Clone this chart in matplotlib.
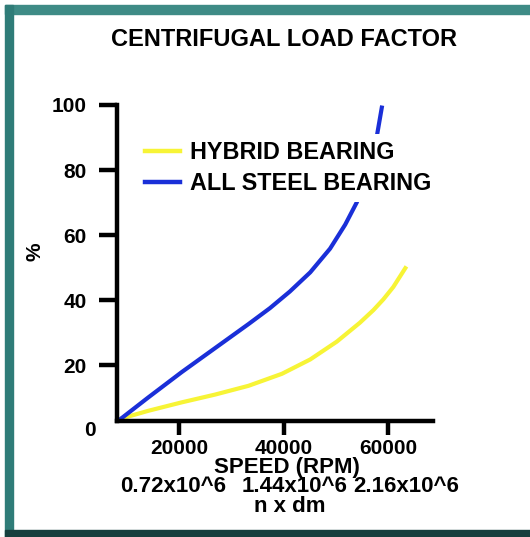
import numpy as np
import matplotlib.pyplot as plt
from matplotlib.lines import Line2D
from matplotlib.patches import Rectangle

# values
speed_steel = [8900, 14100, 20500, 26900, 33300, 37400, 41200, 45100, 48900, 51800, 54000,
               55800, 57800, 58800]
load_steel = [3.5, 10.0, 17.8, 25.2, 32.6, 37.5, 42.6, 48.5, 55.8, 63.2, 70.0, 77.4, 89.9, 99.2]
speed_hybrid = [8900, 14100, 20500, 26900, 33300, 39700, 45100, 50200, 54600, 57200, 59100,
                61000, 63300]
load_hybrid = [3.5, 5.9, 8.5, 10.9, 13.6, 17.3, 21.7, 27.2, 33.0, 36.9, 40.2, 44.0, 49.8]

x_ticks = [20000, 40000, 60000]
y_ticks = [20, 40, 60, 80, 100]
ndm_labels = ['0.72x10^6', '1.44x10^6', '2.16x10^6']

W, H = 530, 537
plt.rcParams['font.family'] = ['Liberation Sans', 'DejaVu Sans']
plt.rcParams['font.weight'] = 'bold'

fig = plt.figure(figsize=(W / 100, H / 100), dpi=100)

def fx(px):
    return px / W

def fy(py):
    return 1 - py / H

# frame around the picture
fig.patches.append(Rectangle((fx(5), fy(14)), fx(525), 9 / H, transform=fig.transFigure,
                             color='#3e8b86', zorder=0))
fig.patches.append(Rectangle((fx(5), fy(537)), fx(8), 532 / H, transform=fig.transFigure,
                             color='#2f7c78', zorder=0))
fig.patches.append(Rectangle((fx(5), 0), fx(525), 7 / H, transform=fig.transFigure,
                             color='#163f3e', zorder=0))

yellow = '#f7f436'
blue = '#1a2fd8'

ax = fig.add_axes([fx(117), fy(421), fx(433 - 117), (421 - 105) / H])
ax.plot(speed_hybrid, load_hybrid, color=yellow, lw=3.0, solid_joinstyle='round')
ax.plot(speed_steel, load_steel, color=blue, lw=3.0, solid_joinstyle='round')

ax.set_xlim(8130, 68600)
ax.set_ylim(2.77, 100)
ax.set_xticks(x_ticks)
ax.set_yticks(y_ticks)
ax.set_xticklabels([str(v) for v in x_ticks], fontsize=15)
ax.set_yticklabels([str(v) for v in y_ticks], fontsize=15)
ax.tick_params(axis='x', length=10, width=3.2, pad=3)
ax.tick_params(axis='y', length=13, width=3.2, pad=9)
for s in ['top', 'right']:
    ax.spines[s].set_visible(False)
for s in ['left', 'bottom']:
    ax.spines[s].set_linewidth(3.2)
    ax.spines[s].set_capstyle('projecting')

handles = [Line2D([], [], color=yellow, lw=3.2),
           Line2D([], [], color=blue, lw=3.2)]
leg = fig.legend(handles, ['HYBRID BEARING', 'ALL STEEL BEARING'], loc='upper left',
                 bbox_to_anchor=(fx(138.6), fy(134.5)), frameon=True, fontsize=16.8,
                 handlelength=1.5, handletextpad=0.42, labelspacing=0.34, borderpad=0.28,
                 borderaxespad=0, fancybox=False)
leg.get_frame().set_facecolor('white')
leg.get_frame().set_edgecolor('none')
leg.get_frame().set_alpha(1)

fig.text(fx(284), fy(40), 'CENTRIFUGAL LOAD FACTOR', fontsize=17, ha='center', va='center')
fig.text(fx(90), fy(431), '0', fontsize=15, ha='center', va='center')
fig.text(fx(35), fy(252), '%', fontsize=15, ha='center', va='center', rotation=90)
fig.text(fx(287), fy(467), 'SPEED (RPM)', fontsize=16, ha='center', va='center')
for cx, lab in zip([173, 295, 406], ndm_labels):
    fig.text(fx(cx), fy(486.5), lab, fontsize=16, ha='center', va='center')
fig.text(fx(290), fy(506), 'n x dm', fontsize=16, ha='center', va='center')

fig.savefig('out.png', dpi=100)
